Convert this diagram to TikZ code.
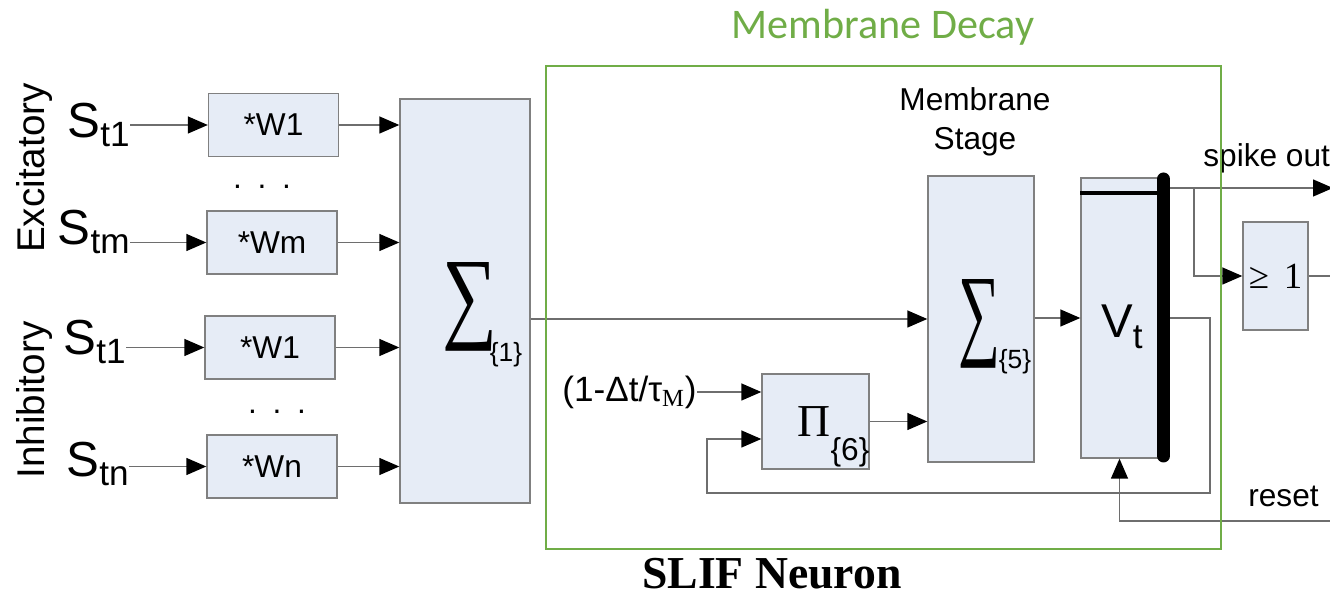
\documentclass[tikz,border=0pt]{standalone}
\usepackage{fontspec}
\setmainfont{Liberation Sans}
\newfontfamily\serifont{Liberation Serif}
\newfontfamily\calfont{Carlito}
\usepackage{graphicx}
\usetikzlibrary{arrows.meta,positioning}
\definecolor{boxfill}{RGB}{230,236,246}
\definecolor{boxbdr}{RGB}{128,128,128}
\definecolor{wireclr}{RGB}{110,110,110}
\definecolor{grnclr}{RGB}{112,173,71}
%% lowered subscript, as in S_t1 and V_t
\newcommand{\lowsub}[2][4pt]{{\fontsize{20}{20}\selectfont\raisebox{-#1}{#2}}}
\tikzset{
  %% light block
  blk/.style={rectangle,draw=boxbdr,fill=boxfill,line width=0.8pt,inner sep=0pt},
  %% weight block
  wblk/.style={blk,minimum width=2.6cm,minimum height=1.26cm,
    font=\fontsize{18}{18}\selectfont},
  %% arrows
  arr/.style={-{Triangle[length=0.4cm,width=0.34cm,color=black]},line width=0.8pt,draw=wireclr},
  wire/.style={line width=0.8pt,draw=wireclr},
  lbl/.style={font=\fontsize{18}{18}\selectfont,inner sep=0pt},
  slbl/.style={font=\fontsize{28}{28}\selectfont,inner sep=0pt},
  sidelbl/.style={font=\fontsize{22}{22}\selectfont,rotate=90,anchor=base,inner sep=0pt},
  bigsym/.style={font=\serifont\fontsize{10}{10}\selectfont,inner sep=0pt},
  subtxt/.style={font=\fontsize{15}{15}\selectfont,inner sep=0pt},
}
\begin{document}
\begin{tikzpicture}[x=0.02cm,y=-0.02cm]
  \useasboundingbox (0,0) rectangle (1330,597);
  %% titles
  \node[anchor=base,font=\calfont\fontsize{24}{24}\selectfont,text=grnclr] (ttl) at (883,39) {Membrane Decay};
  \node[anchor=base,font=\serifont\bfseries\fontsize{26}{26}\selectfont] (nrn) at (772,589) {SLIF Neuron};

  %% inputs and weights
  \node[sidelbl] (exc) at (44,168) {Excitatory};
  \node[sidelbl] (inh) at (44,400) {Inhibitory};
  \node[slbl,anchor=base east] (se1) at (130,138) {S\lowsub[5pt]{t1}};
  \node[slbl,anchor=base east] (sem) at (130,245) {S\lowsub[5pt]{tm}};
  \node[slbl,anchor=base east] (si1) at (126,355) {S\lowsub[5pt]{t1}};
  \node[slbl,anchor=base east] (sin) at (129,477) {S\lowsub[5pt]{tn}};
  \node[wblk] (we1) at (273.5,125) {*W1};
  \node[wblk] (wem) at (272,242.5) {*Wm};
  \node[wblk] (wi1) at (270,347.5) {*W1};
  \node[wblk] (win) at (272,466.5) {*Wn};
  \node[lbl,anchor=base] (dts1) at (262,189) {.\hspace{.5em}.\hspace{.5em}.};
  \node[lbl,anchor=base] (dts2) at (277,414) {.\hspace{.5em}.\hspace{.5em}.};

  \node[blk,minimum width=2.6cm,minimum height=8.08cm] (sum1) at (465,301) {};
  \node[bigsym] (sg1) at (469.5,306.5) {\resizebox{1.1cm}{1.34cm}{∑}};
  \node[subtxt] (sb1) at (506,355) {\{1\}};

  \foreach \s/\w in {se1/we1,sem/wem,si1/wi1,sin/win}{
    \draw[arr] (\s.east |- \w.west) -- (\w.west);
    \draw[arr] (\w.east) -- (\w.east -| sum1.west);
  }

  %% decay and membrane stage
  \node[anchor=east,inner sep=0pt,font=\fontsize{20}{20}\selectfont] (dec) at (697,392) {(1-Δt/τ\textsubscript{\serifont M})};
  \node[blk,minimum width=2.14cm,minimum height=1.9cm] (prod) at (815.5,421.5) {};
  \node[inner sep=0pt,font=\serifont\fontsize{26}{26}\selectfont] (pi6) at (814,422) {Π};
  \node[subtxt,font=\fontsize{18}{18}\selectfont] (sb6) at (850,452.5) {\{6\}};

  \node[blk,minimum width=2.12cm,minimum height=5.72cm] (sum5) at (981,319) {};
  \node[bigsym] (sg5) at (979,323.5) {\resizebox{0.84cm}{1.34cm}{∑}};
  \node[subtxt] (sb5) at (1015,361.5) {\{5\}};
  \node[lbl,align=center,anchor=base,font=\fontsize{18}{22.7}\selectfont] (stg) at (975,150) {Membrane\\Stage};

  \node[blk,minimum width=1.54cm,minimum height=5.6cm] (vt) at (1119.5,318) {};
  \node[anchor=base west,inner sep=0pt,font=\fontsize{27}{27}\selectfont] (vtx) at (1101,338) {V\lowsub[6pt]{t}};
  \draw[line width=1.8pt] (1080,193) -- (1160,193);
  \coordinate (barT) at (1163.5,179);
  \coordinate (barB) at (1163.5,456);
  \draw[line width=0.26cm,line cap=round] (barT) -- (barB);

  \node[blk,minimum width=1.3cm,minimum height=2.16cm,font=\serifont\fontsize{21}{21}\selectfont] (geq) at (1275.5,276) {≥\hspace{.4em}1};

  %% wires
  \draw[arr] (sum1.east |- sum5.west) -- (sum5.west);
  \draw[arr] (dec.east) -- (dec.east -| prod.west);
  \draw[arr] (prod.east) -- (prod.east -| sum5.west);
  \draw[arr] (sum5.east |- vt.west) -- (vt.west);
  \coordinate (spkA) at (1170,188);
  \coordinate (spkB) at (1333,188);
  \coordinate (brn) at (1194,188);
  \draw[arr] (spkA) -- (spkB);
  \draw[arr] (brn) |- (geq.west);
  \coordinate (geqB) at (1333,276);
  \draw[wire] (geq.east) -- (geqB);
  \coordinate (fbA) at (1170,318);
  \coordinate (fbB) at (1210,493);
  \coordinate (fbC) at (707,439);
  \draw[arr] (fbA) -| (fbB) -| (fbC) -- (fbC -| prod.west);
  \coordinate (rst) at (1333,521);
  \draw[arr] (rst) -| (vt.south);
  \node[lbl,anchor=base west] (spkl) at (1203,167) {spike out};
  \node[lbl,anchor=base west] (rstl) at (1248,507) {reset};

  %% membrane decay frame
  \draw[grnclr,line width=1.2pt] (546,66) rectangle (1221,549);
\end{tikzpicture}
\end{document}
